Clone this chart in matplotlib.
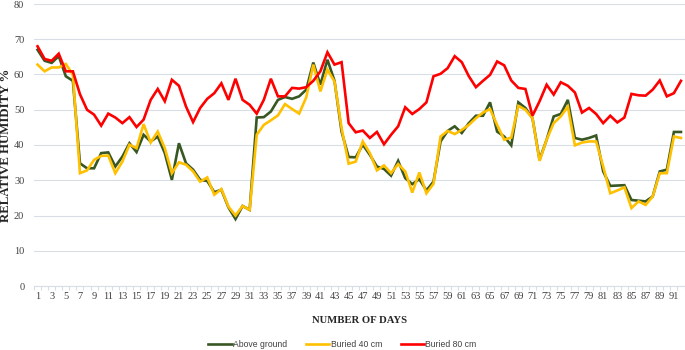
import matplotlib
matplotlib.use("Agg")
import matplotlib.pyplot as plt
import numpy as np

days = list(range(1, 93))

above_ground = [67.0, 63.9, 63.3, 65.2, 59.5, 58.2, 34.8, 33.4, 33.4, 37.7,
                37.9, 33.9, 36.7, 40.5, 38.0, 42.9, 41.0, 42.4, 37.7, 30.1,
                40.5, 34.8, 33.0, 30.1, 29.8, 26.6, 27.3, 22.3, 19.0, 22.7,
                21.6, 47.8, 47.9, 49.5, 52.8, 53.6, 53.1, 53.8, 55.7, 63.4,
                57.1, 64.2, 58.2, 43.8, 36.6, 36.5, 40.1, 37.2, 33.9, 33.2,
                31.3, 35.5, 30.6, 28.9, 30.3, 27.1, 29.6, 41.0, 44.0, 45.3,
                43.4, 46.2, 48.3, 48.3, 52.1, 43.8, 42.4, 39.9, 52.1, 50.5,
                47.6, 35.8, 41.5, 48.1, 48.8, 52.8, 42.0, 41.5, 42.0, 42.7,
                32.5, 28.4, 28.5, 28.6, 24.4, 24.2, 24.0, 25.4, 32.5, 33.0,
                43.7, 43.7]

buried_40 = [62.8, 60.9, 62.0, 62.0, 63.0, 59.9, 32.0, 32.8, 35.8, 36.9,
             37.0, 32.0, 35.3, 40.1, 39.1, 45.9, 40.7, 43.8, 39.1, 32.0,
             35.1, 34.4, 32.5, 29.6, 30.8, 25.9, 27.5, 22.5, 20.0, 22.7,
             21.6, 42.9, 45.7, 47.0, 48.4, 51.6, 50.2, 48.9, 53.5, 62.8,
             55.2, 61.4, 58.0, 44.8, 34.7, 35.3, 41.0, 37.7, 32.8, 34.2,
             32.0, 34.6, 32.5, 26.5, 32.2, 26.3, 29.0, 42.4, 44.0, 43.1,
             44.3, 45.7, 47.6, 49.2, 50.2, 45.7, 41.5, 42.1, 51.1, 50.0,
             47.6, 35.5, 41.5, 46.2, 48.1, 50.9, 39.9, 40.7, 41.0, 41.0,
             33.9, 26.3, 27.1, 28.0, 22.1, 24.0, 23.0, 25.4, 32.0, 32.0,
             42.4, 42.0]

buried_80 = [68.0, 64.4, 63.9, 65.9, 60.9, 60.9, 54.4, 50.0, 48.6, 45.5,
             48.9, 47.8, 46.2, 47.9, 45.1, 47.2, 52.8, 55.9, 52.4, 58.5,
             56.8, 50.9, 46.5, 50.5, 53.1, 54.7, 57.5, 52.8, 58.8, 52.8,
             51.4, 48.9, 52.8, 58.8, 53.8, 53.8, 56.2, 56.0, 56.4, 58.2,
             60.9, 66.3, 62.8, 63.5, 46.2, 43.6, 44.1, 42.0, 43.7, 40.2,
             42.9, 45.3, 50.7, 48.8, 50.2, 52.1, 59.5, 60.2, 61.8, 65.2,
             63.5, 59.5, 56.4, 58.2, 59.9, 63.7, 62.6, 58.3, 56.2, 55.9,
             48.3, 52.4, 57.1, 54.3, 57.8, 56.8, 54.9, 49.2, 50.5, 48.8,
             46.2, 48.3, 46.4, 47.8, 54.5, 54.1, 54.0, 55.7, 58.3, 53.8,
             54.7, 58.2]

series_names = ["Above ground", "Buried 40 cm", "Buried 80 cm"]
y_ticks = [0, 10, 20, 30, 40, 50, 60, 70, 80]
x_tick_labels = [str(d) for d in days if d % 2 == 1]

W, H = 685, 350
ax_left, ax_right, ax_bottom, ax_top = 34, 684.5, 286, 4
fig = plt.figure(figsize=(W / 100, H / 100), dpi=100)
ax = fig.add_axes([ax_left / W, 1 - ax_bottom / H, (ax_right - ax_left) / W, (ax_bottom - ax_top) / H])

colors = ["#385723", "#FFC000", "#FF0000"]
for vals, name, c in zip([above_ground, buried_40, buried_80], series_names, colors):
    ax.plot(days, vals, color=c, lw=1.9, label=name, solid_joinstyle="miter")

ax.set_xlim(0.5, 92.5)
ax.set_ylim(0, 80)
ax.set_yticks(y_ticks)
ax.yaxis.grid(True, color="#D9DEE6", lw=0.8)
ax.set_axisbelow(True)
for s in ["top", "right", "left"]:
    ax.spines[s].set_visible(False)
ax.spines["bottom"].set_color("#D9DEE6")
ax.spines["bottom"].set_linewidth(0.8)

ax.set_xticks([d for d in days if d % 2 == 1])
ax.set_xticklabels(x_tick_labels)
ax.set_xticks(np.arange(0.5, 93, 1), minor=True)
ax.tick_params(axis="x", which="major", length=0, pad=4)
ax.tick_params(axis="x", which="minor", length=3, color="#D9DEE6", width=0.8)
ax.tick_params(axis="y", length=0, pad=7)

serif = ["Liberation Serif", "DejaVu Serif"]
for lab in ax.get_xticklabels() + ax.get_yticklabels():
    lab.set_fontfamily(serif)
    lab.set_fontsize(7.5)
    lab.set_color("#404040")

ax.set_xlabel("NUMBER OF DAYS", fontfamily=serif, fontweight="bold", fontsize=7.7,
              labelpad=11, color="#262626")
ax.set_ylabel("RELATIVE HUMIDITY %", fontfamily=serif, fontweight="bold", fontsize=9.3,
              color="#262626")
ax.yaxis.set_label_coords((12 - ax_left) / (ax_right - ax_left), 0.5)

leg = fig.legend(loc="lower center", bbox_to_anchor=(0.5, -0.018), ncol=3, frameon=False,
                 prop={"family": "Liberation Sans", "size": 6.2}, handlelength=2.7,
                 columnspacing=2.2, handletextpad=0.15)
for t in leg.get_texts():
    t.set_color("#404040")

fig.savefig("out.png", dpi=100)
